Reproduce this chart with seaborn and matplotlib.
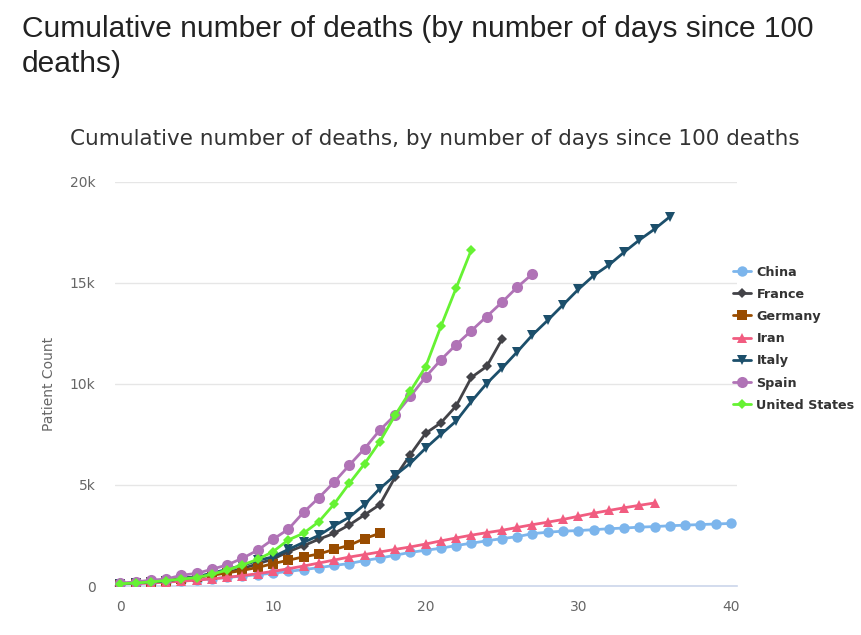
import numpy as np
import pandas as pd
import matplotlib
matplotlib.use("Agg")
import matplotlib.pyplot as plt
import seaborn as sns
from matplotlib.ticker import FuncFormatter

# cumulative deaths, index = days since 100th death
china = [106, 132, 170, 213, 259, 304, 361, 425, 490, 562, 636, 722, 811, 908, 1016,
         1113, 1259, 1380, 1523, 1665, 1770, 1868, 2004, 2118, 2236, 2345, 2442, 2592,
         2663, 2715, 2744, 2788, 2835, 2870, 2912, 2943, 2981, 3013, 3042, 3070, 3097]
france = [127, 148, 175, 244, 372, 450, 562, 674, 860, 1100, 1331, 1696, 1995, 2314,
          2606, 3024, 3523, 4032, 5387, 6507, 7560, 8078, 8911, 10328, 10869, 12210]
germany = [123, 157, 206, 267, 342, 433, 533, 645, 775, 920, 1107, 1275, 1444, 1584,
           1810, 2016, 2349, 2607]
iran = [107, 124, 145, 194, 237, 291, 354, 429, 514, 611, 724, 853, 988, 1135, 1284,
        1433, 1556, 1685, 1812, 1934, 2077, 2234, 2378, 2517, 2640, 2757, 2898, 3036,
        3160, 3294, 3452, 3603, 3739, 3872, 3993, 4110]
italy = [107, 148, 197, 233, 366, 463, 631, 827, 1016, 1266, 1441, 1809, 2158, 2503,
         2978, 3405, 4032, 4825, 5476, 6077, 6820, 7503, 8165, 9134, 10023, 10779,
         11591, 12428, 13155, 13915, 14681, 15362, 15887, 16523, 17127, 17669, 18279]
spain = [136, 198, 289, 342, 533, 623, 830, 1043, 1375, 1772, 2311, 2808, 3647, 4365,
         5138, 5982, 6803, 7716, 8464, 9387, 10348, 11198, 11947, 12641, 13341, 14045,
         14792, 15447]
us = [110, 150, 200, 270, 340, 420, 580, 790, 1040, 1320, 1700, 2280, 2610, 3180, 4050,
      5080, 6050, 7150, 8450, 9650, 10850, 12850, 14750, 16650]

series = {
    "China": china,
    "France": france,
    "Germany": germany,
    "Iran": iran,
    "Italy": italy,
    "Spain": spain,
    "United States": us,
}
colors = {
    "China": "#7cb5ec",
    "France": "#434348",
    "Germany": "#994c00",
    "Iran": "#f15c80",
    "Italy": "#1c4f6b",
    "Spain": "#b073b6",
    "United States": "#66f233",
}
markers = {
    "China": "o",
    "France": "D",
    "Germany": "s",
    "Iran": "^",
    "Italy": "v",
    "Spain": "o",
    "United States": "D",
}
msizes = {"China": 7.5, "France": 5.5, "Germany": 7.5, "Iran": 7.5, "Italy": 7.5,
          "Spain": 8, "United States": 5.5}

df = pd.concat([
    pd.DataFrame({"day": np.arange(len(v)), "deaths": v, "country": k})
    for k, v in series.items()
])

sns.set_style("white")
plt.rcParams["font.family"] = ["DejaVu Sans"]

fig = plt.figure(figsize=(8.62, 6.35), dpi=100)
ax = fig.add_axes([115 / 862, 1 - 586 / 635, (737 - 115) / 862, (586 - 182) / 635])

for name in series:
    sub = df[df["country"] == name]
    sns.lineplot(data=sub, x="day", y="deaths", ax=ax, color=colors[name],
                 marker=markers[name], markersize=msizes[name], markeredgewidth=0,
                 linewidth=2, label=name, zorder=3)

ax.set_xlim(-0.35, 40.4)
ax.set_ylim(0, 20000)
ax.set_xticks([0, 10, 20, 30, 40])
ax.set_yticks([0, 5000, 10000, 15000, 20000])
ax.yaxis.set_major_formatter(FuncFormatter(lambda v, p: "0" if v == 0 else f"{int(v/1000)}k"))
ax.grid(axis="y", color="#e6e6e6", linewidth=1)
ax.set_axisbelow(True)
for s in ["top", "right", "left"]:
    ax.spines[s].set_visible(False)
ax.spines["bottom"].set_color("#ccd6eb")
ax.spines["bottom"].set_linewidth(1.2)
ax.tick_params(axis="x", colors="#ccd6eb", length=8, width=1, labelcolor="#666666",
               labelsize=10, pad=2)
ax.tick_params(axis="y", length=0, labelcolor="#666666", labelsize=10, pad=14)
ax.set_xlabel("")
ax.set_ylabel("Patient Count", color="#666666", fontsize=10, labelpad=10)

handles, labels = ax.get_legend_handles_labels()
ax.legend_.remove()
leg = fig.legend(handles, labels, loc="upper left", bbox_to_anchor=(722 / 862, 1 - 254 / 635),
                 frameon=False, handlelength=1.4, handletextpad=0.4, labelspacing=0.72,
                 prop={"weight": "bold", "size": 9.2})
for t in leg.get_texts():
    t.set_color("#333333")

fig.text(22 / 862, 1 - 15 / 635, "Cumulative number of deaths (by number of days since 100\ndeaths)",
         ha="left", va="top", fontsize=21.5, color="#222222", family="Liberation Sans",
         linespacing=1.3)
fig.text(435 / 862, 1 - 139 / 635, "Cumulative number of deaths, by number of days since 100 deaths",
         ha="center", va="center", fontsize=15.5, color="#333333")

fig.savefig("out.png", dpi=100)
